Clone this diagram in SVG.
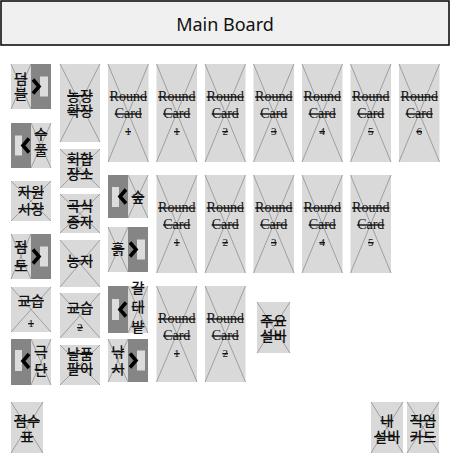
<svg xmlns="http://www.w3.org/2000/svg" width="450" height="474" viewBox="0 0 450 474">
<style>
.card{fill:#d9d9d9}
.x{stroke:#8f8f8f;stroke-width:0.8;fill:none}
.panel{fill:#858585}
.slot{fill:#dcdcdc}
.chev{fill:none;stroke:#000;stroke-width:3.6;stroke-linejoin:miter}
.ko{font-family:"Noto Sans CJK KR","Noto Sans",sans-serif;font-size:14px;font-weight:500;fill:#111;text-anchor:middle;text-decoration:line-through}
.rc{font-family:"Liberation Serif","Times New Roman",serif;font-size:14px;fill:#111;text-anchor:middle;text-decoration:line-through}
.num{font-family:"Liberation Serif","Times New Roman",serif;font-size:11px;fill:#111;text-anchor:middle;text-decoration:line-through}
.title{font-family:"Noto Sans","Open Sans",sans-serif;font-size:18px;fill:#111;text-anchor:middle}
</style>
<rect width="450" height="474" fill="#fff"/>

<g id="main-board">
<rect x="1" y="1" width="448" height="44" fill="#f0f0f0" stroke="#000" stroke-width="1.5"/>
<text class="title" x="225" y="31">Main Board</text>
</g>

<!-- left column -->
<g id="dumble">
<rect class="card" x="11" y="64" width="40" height="45"/>
<path class="x" d="M11 64L31 109M31 64L11 109"/>
<rect class="panel" x="31" y="64" width="20" height="45"/>
<rect class="slot" x="40" y="76.5" width="8" height="20"/>
<polyline class="chev" points="33,79.5 39,86.5 33,93.5"/>
<text class="ko" x="21" y="84">덤<tspan x="21" dy="15">블</tspan></text>
</g>

<g id="supul">
<rect class="card" x="11" y="123" width="40" height="45"/>
<path class="x" d="M31 123L51 168M51 123L31 168"/>
<rect class="panel" x="11" y="123" width="20" height="45"/>
<rect class="slot" x="15" y="135.5" width="7" height="20"/>
<polyline class="chev" points="29,138.5 23,145.5 29,152.5"/>
<text class="ko" x="41" y="139">수<tspan x="41" dy="16">풀</tspan></text>
</g>

<g id="resource-market">
<rect class="card" x="11" y="181" width="40" height="40"/>
<path class="x" d="M11 181L51 221M51 181L11 221"/>
<text class="ko" x="31" y="197">자원<tspan x="31" dy="17">시장</tspan></text>
</g>

<g id="clay">
<rect class="card" x="11" y="234" width="40" height="45"/>
<path class="x" d="M11 234L31 279M31 234L11 279"/>
<rect class="panel" x="31" y="234" width="20" height="45"/>
<rect class="slot" x="40" y="246.5" width="8" height="20"/>
<polyline class="chev" points="33,249.5 39,256.5 33,263.5"/>
<text class="ko" x="21" y="252">점<tspan x="21" dy="19">토</tspan></text>
</g>

<g id="lesson-1">
<rect class="card" x="11" y="287" width="40" height="45"/>
<path class="x" d="M11 287L51 332M51 287L11 332"/>
<text class="ko" x="31" y="306">교습<tspan class="num" x="31" dy="21">1</tspan></text>
</g>

<g id="theater">
<rect class="card" x="11" y="339" width="40" height="46"/>
<path class="x" d="M31 339L51 385M51 339L31 385"/>
<rect class="panel" x="11" y="339" width="20" height="46"/>
<rect class="slot" x="15" y="350" width="7" height="21"/>
<polyline class="chev" points="29,354 23,361 29,368"/>
<text class="ko" x="41" y="357">극<tspan x="41" dy="18">단</tspan></text>
</g>

<!-- second column -->
<g id="farm-expansion">
<rect class="card" x="60" y="64" width="40" height="78"/>
<path class="x" d="M60 64L100 142M100 64L60 142"/>
<text class="ko" x="80" y="101">농장<tspan x="80" dy="15">확장</tspan></text>
</g>

<g id="meeting-place">
<rect class="card" x="60" y="149" width="40" height="39"/>
<path class="x" d="M60 149L100 188M100 149L60 188"/>
<text class="ko" x="80" y="164">회합<tspan x="80" dy="15">장소</tspan></text>
</g>

<g id="grain-seeds">
<rect class="card" x="60" y="194" width="40" height="39"/>
<path class="x" d="M60 194L100 233M100 194L60 233"/>
<text class="ko" x="80" y="211">곡식<tspan x="80" dy="16">종자</tspan></text>
</g>

<g id="farmland">
<rect class="card" x="60" y="240" width="40" height="47"/>
<path class="x" d="M60 240L100 287M100 240L60 287"/>
<text class="ko" x="80" y="266">농지</text>
</g>

<g id="lesson-2">
<rect class="card" x="60" y="293" width="40" height="45"/>
<path class="x" d="M60 293L100 338M100 293L60 338"/>
<text class="ko" x="80" y="313">교습<tspan class="num" x="80" dy="18">2</tspan></text>
</g>

<g id="day-laborer">
<rect class="card" x="60" y="345" width="40" height="40"/>
<path class="x" d="M60 345L100 385M100 345L60 385"/>
<text class="ko" x="80" y="359">날품<tspan x="80" dy="15">팔이</tspan></text>
</g>

<!-- third column small cards -->
<g id="forest">
<rect class="card" x="108" y="175" width="40" height="43"/>
<path class="x" d="M128 175L148 218M148 175L128 218"/>
<rect class="panel" x="108" y="175" width="20" height="43"/>
<rect class="slot" x="112" y="187" width="7" height="20"/>
<polyline class="chev" points="126,189.5 120,196.5 126,203.5"/>
<text class="ko" x="138" y="202">숲</text>
</g>

<g id="soil">
<rect class="card" x="108" y="227" width="40" height="45"/>
<path class="x" d="M108 227L128 272M128 227L108 272"/>
<rect class="panel" x="128" y="227" width="20" height="45"/>
<rect class="slot" x="137" y="239.5" width="8" height="20"/>
<polyline class="chev" points="130,242.5 136,249.5 130,256.5"/>
<text class="ko" x="118" y="254">흙</text>
</g>

<g id="reed-field">
<rect class="card" x="108" y="286" width="40" height="47"/>
<path class="x" d="M128 286L148 333M148 286L128 333"/>
<rect class="panel" x="108" y="286" width="20" height="47"/>
<rect class="slot" x="112" y="299" width="7" height="21"/>
<polyline class="chev" points="126,302.5 120,309.5 126,316.5"/>
<text class="ko" x="138" y="293">갈<tspan x="138" dy="19">대</tspan><tspan x="138" dy="20">밭</tspan></text>
</g>

<g id="fishing">
<rect class="card" x="108" y="339" width="40" height="43"/>
<path class="x" d="M108 339L128 382M128 339L108 382"/>
<rect class="panel" x="128" y="339" width="20" height="43"/>
<rect class="slot" x="137" y="350.5" width="8" height="20"/>
<polyline class="chev" points="130,353.5 136,360.5 130,367.5"/>
<text class="ko" x="118" y="357">낚<tspan x="118" dy="17">시</tspan></text>
</g>

<!-- round cards row 1 -->
<g id="rc-r1-1"><rect class="card" x="108" y="64" width="40.5" height="98"/><path class="x" d="M108 64L148.5 162M148.5 64L108 162"/><text class="rc" x="128.25" y="101">Round<tspan x="128.25" dy="17">Card</tspan><tspan class="num" x="128.25" dy="17">1</tspan></text></g>
<g id="rc-r1-2"><rect class="card" x="156.5" y="64" width="40.5" height="98"/><path class="x" d="M156.5 64L197 162M197 64L156.5 162"/><text class="rc" x="176.75" y="101">Round<tspan x="176.75" dy="17">Card</tspan><tspan class="num" x="176.75" dy="17">1</tspan></text></g>
<g id="rc-r1-3"><rect class="card" x="205" y="64" width="40.5" height="98"/><path class="x" d="M205 64L245.5 162M245.5 64L205 162"/><text class="rc" x="225.25" y="101">Round<tspan x="225.25" dy="17">Card</tspan><tspan class="num" x="225.25" dy="17">2</tspan></text></g>
<g id="rc-r1-4"><rect class="card" x="253.5" y="64" width="40.5" height="98"/><path class="x" d="M253.5 64L294 162M294 64L253.5 162"/><text class="rc" x="273.75" y="101">Round<tspan x="273.75" dy="17">Card</tspan><tspan class="num" x="273.75" dy="17">3</tspan></text></g>
<g id="rc-r1-5"><rect class="card" x="302" y="64" width="40.5" height="98"/><path class="x" d="M302 64L342.5 162M342.5 64L302 162"/><text class="rc" x="322.25" y="101">Round<tspan x="322.25" dy="17">Card</tspan><tspan class="num" x="322.25" dy="17">4</tspan></text></g>
<g id="rc-r1-6"><rect class="card" x="350.5" y="64" width="40.5" height="98"/><path class="x" d="M350.5 64L391 162M391 64L350.5 162"/><text class="rc" x="370.75" y="101">Round<tspan x="370.75" dy="17">Card</tspan><tspan class="num" x="370.75" dy="17">5</tspan></text></g>
<g id="rc-r1-7"><rect class="card" x="399" y="64" width="40.5" height="98"/><path class="x" d="M399 64L439.5 162M439.5 64L399 162"/><text class="rc" x="419.25" y="101">Round<tspan x="419.25" dy="17">Card</tspan><tspan class="num" x="419.25" dy="17">6</tspan></text></g>

<!-- round cards row 2 -->
<g id="rc-r2-1"><rect class="card" x="156.5" y="175" width="40.5" height="98"/><path class="x" d="M156.5 175L197 273M197 175L156.5 273"/><text class="rc" x="176.75" y="212">Round<tspan x="176.75" dy="17">Card</tspan><tspan class="num" x="176.75" dy="17">1</tspan></text></g>
<g id="rc-r2-2"><rect class="card" x="205" y="175" width="40.5" height="98"/><path class="x" d="M205 175L245.5 273M245.5 175L205 273"/><text class="rc" x="225.25" y="212">Round<tspan x="225.25" dy="17">Card</tspan><tspan class="num" x="225.25" dy="17">2</tspan></text></g>
<g id="rc-r2-3"><rect class="card" x="253.5" y="175" width="40.5" height="98"/><path class="x" d="M253.5 175L294 273M294 175L253.5 273"/><text class="rc" x="273.75" y="212">Round<tspan x="273.75" dy="17">Card</tspan><tspan class="num" x="273.75" dy="17">3</tspan></text></g>
<g id="rc-r2-4"><rect class="card" x="302" y="175" width="40.5" height="98"/><path class="x" d="M302 175L342.5 273M342.5 175L302 273"/><text class="rc" x="322.25" y="212">Round<tspan x="322.25" dy="17">Card</tspan><tspan class="num" x="322.25" dy="17">4</tspan></text></g>
<g id="rc-r2-5"><rect class="card" x="350.5" y="175" width="40.5" height="98"/><path class="x" d="M350.5 175L391 273M391 175L350.5 273"/><text class="rc" x="370.75" y="212">Round<tspan x="370.75" dy="17">Card</tspan><tspan class="num" x="370.75" dy="17">5</tspan></text></g>

<!-- round cards row 3 -->
<g id="rc-r3-1"><rect class="card" x="156.5" y="286" width="40.5" height="96"/><path class="x" d="M156.5 286L197 382M197 286L156.5 382"/><text class="rc" x="176.75" y="323">Round<tspan x="176.75" dy="17">Card</tspan><tspan class="num" x="176.75" dy="17">1</tspan></text></g>
<g id="rc-r3-2"><rect class="card" x="205" y="286" width="40.5" height="96"/><path class="x" d="M205 286L245.5 382M245.5 286L205 382"/><text class="rc" x="225.25" y="323">Round<tspan x="225.25" dy="17">Card</tspan><tspan class="num" x="225.25" dy="17">2</tspan></text></g>

<g id="major-improvement">
<rect class="card" x="257" y="302" width="33" height="51"/>
<path class="x" d="M257 302L290 353M290 302L257 353"/>
<text class="ko" x="273.5" y="326">주요<tspan x="273.5" dy="15">설비</tspan></text>
</g>

<!-- bottom row -->
<g id="score-sheet">
<rect class="card" x="11" y="402" width="32" height="51"/>
<path class="x" d="M11 402L43 453M43 402L11 453"/>
<text class="ko" x="27" y="426">점수<tspan x="27" dy="16">표</tspan></text>
</g>

<g id="my-improvements">
<rect class="card" x="371" y="402" width="32" height="51"/>
<path class="x" d="M371 402L403 453M403 402L371 453"/>
<text class="ko" x="387" y="426">내<tspan x="387" dy="16">설비</tspan></text>
</g>

<g id="occupation-cards">
<rect class="card" x="407" y="402" width="32" height="51"/>
<path class="x" d="M407 402L439 453M439 402L407 453"/>
<text class="ko" x="423" y="426">직업<tspan x="423" dy="16">카드</tspan></text>
</g>
</svg>
